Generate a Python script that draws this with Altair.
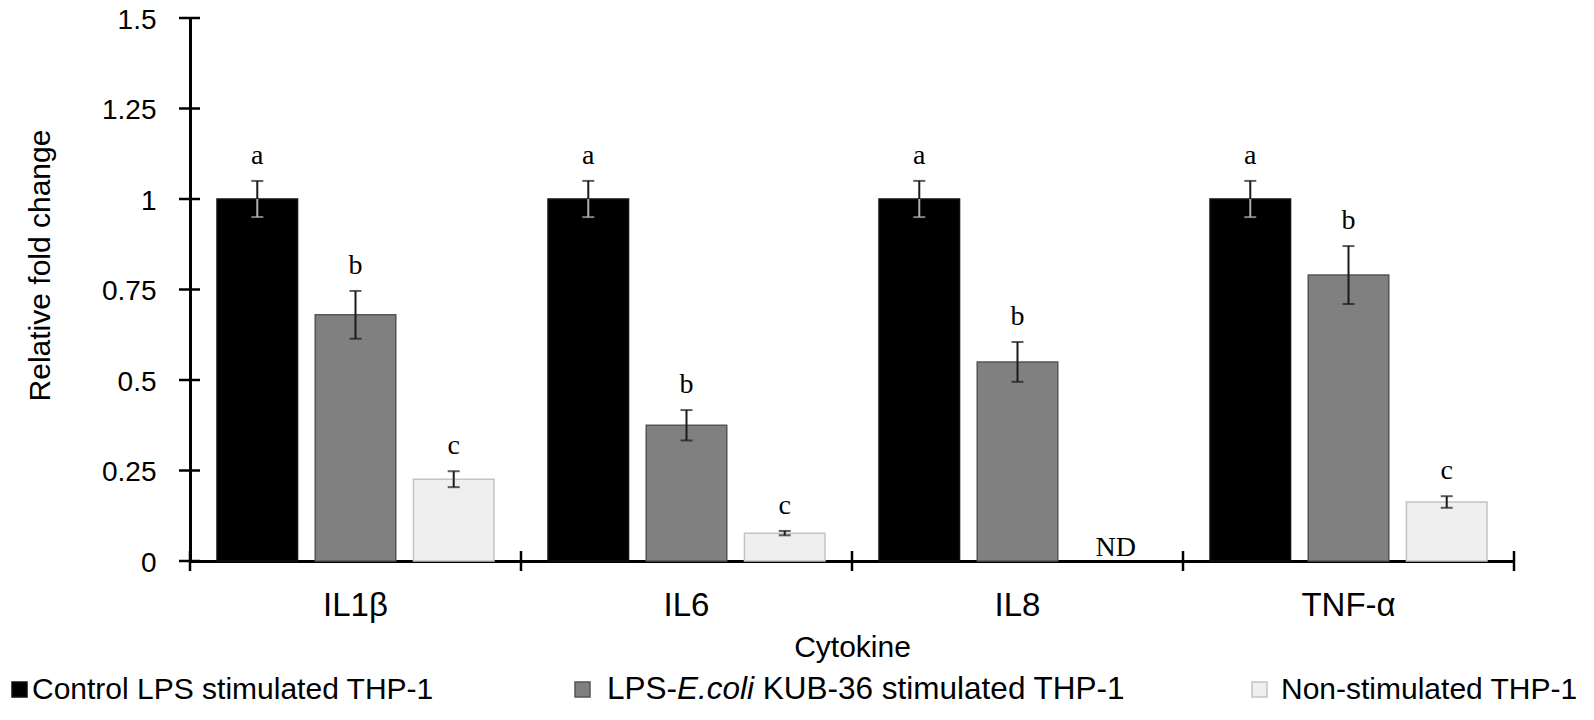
import altair as alt
import pandas as pd

# ---------------- data ----------------
categories = ["IL1β", "IL6", "IL8", "TNF-α"]
groups = ["Control LPS stimulated THP-1",
          "LPS-E.coli KUB-36 stimulated THP-1",
          "Non-stimulated THP-1"]
control_values = [1.0, 1.0, 1.0, 1.0]
control_errors = [0.05, 0.05, 0.05, 0.05]
ecoli_values = [0.68, 0.375, 0.55, 0.79]
ecoli_errors = [0.066, 0.042, 0.055, 0.08]
nonstim_values = [0.226, 0.077, 0.0, 0.163]
nonstim_errors = [0.022, 0.006, 0.0, 0.016]
nonstim_detected = [True, True, False, True]
control_letters = ["a", "a", "a", "a"]
ecoli_letters = ["b", "b", "b", "b"]
nonstim_letters = ["c", "c", "ND", "c"]
y_ticks = [0, 0.25, 0.5, 0.75, 1, 1.25, 1.5]

# ---------------- styles ----------------
SANS = "Liberation Sans"
SERIF = "Liberation Serif"
FS = 30
YFS = 28
XFS = 33
fills = ["#000000", "#808080", "#efefef"]
strokes = ["#111111", "#555555", "#c4c4c4"]
low_err_colors = ["#b0b0b0", "#1a1a1a", "#1a1a1a"]
DARK = "#1a1a1a"
W, H = 1324, 543
TOP = 10

rows = []
series = [
    (control_values, control_errors, control_letters, [True] * 4),
    (ecoli_values, ecoli_errors, ecoli_letters, [True] * 4),
    (nonstim_values, nonstim_errors, nonstim_letters, nonstim_detected),
]
for gi, (vals, errs, lets, det) in enumerate(series):
    for ci, cat in enumerate(categories):
        rows.append({
            "cat": cat, "group": groups[gi], "value": vals[ci],
            "lo": vals[ci] - errs[ci], "hi": vals[ci] + errs[ci],
            "letter": lets[ci], "detected": det[ci],
            "lowcolor": low_err_colors[gi],
        })
df = pd.DataFrame(rows)

xscale = alt.Scale(domain=categories, paddingInner=0, paddingOuter=0)
xoscale = alt.Scale(domain=groups, paddingInner=0.18, paddingOuter=0.275)
yscale = alt.Scale(domain=[0, 1.5], nice=False, zero=True)

xaxis = alt.Axis(title="Cytokine", labelFont=SANS, labelFontSize=XFS,
                 labelColor="black", labelBaseline="alphabetic",
                 labelPadding=54, labelAngle=0, ticks=False, tickSize=0,
                 domainColor="black", domainWidth=3,
                 titleFont=SANS, titleFontSize=FS, titleFontWeight="normal",
                 titleColor="black", titleY=95, titleBaseline="alphabetic")
yaxis = alt.Axis(title="Relative fold change", values=y_ticks,
                 labelExpr="format(datum.value, '~g')",
                 labelFont=SANS, labelFontSize=YFS, labelColor="black",
                 labelBaseline="alphabetic", labelOffset=10,
                 labelPadding=34, ticks=False, tickSize=0, grid=False,
                 domainColor="black", domainWidth=3,
                 titleFont=SANS, titleFontSize=FS, titleFontWeight="normal",
                 titleColor="black", titleX=-150, titleY=247,
                 titleAngle=-90, titleBaseline="middle", titleAlign="center")


def X(**kw):
    return alt.X("cat:N", scale=xscale, sort=categories, axis=xaxis,
                 title="Cytokine", **kw)


def Yf(field):
    return alt.Y(field, scale=yscale, axis=yaxis, title="Relative fold change")


XO = alt.XOffset("group:N", scale=xoscale, sort=groups)

base = alt.Chart(df)
det = base.transform_filter("datum.detected")

bars = det.mark_bar(strokeWidth=1.5).encode(
    x=X(), xOffset=XO, y=Yf("value:Q"),
    color=alt.Color("group:N", scale=alt.Scale(domain=groups, range=fills), legend=None),
    stroke=alt.Stroke("group:N", scale=alt.Scale(domain=groups, range=strokes), legend=None),
)
err_up = det.mark_rule(strokeWidth=2, color=DARK).encode(
    x=X(), xOffset=XO, y=Yf("value:Q"), y2="hi:Q")
err_low = det.mark_rule(strokeWidth=2).encode(
    x=X(), xOffset=XO, y=Yf("lo:Q"), y2="value:Q",
    color=alt.Color("lowcolor:N", scale=None))
cap_top = det.mark_tick(orient="horizontal", size=12, thickness=2, color=DARK).encode(
    x=X(), xOffset=XO, y=Yf("hi:Q"))
cap_low = det.mark_tick(orient="horizontal", size=12, thickness=2).encode(
    x=X(), xOffset=XO, y=Yf("lo:Q"), color=alt.Color("lowcolor:N", scale=None))
letters = det.mark_text(font=SERIF, fontSize=28, baseline="alphabetic", dy=-17,
                        color="black").encode(
    x=X(), xOffset=XO, y=Yf("hi:Q"), text="letter:N")
nd = base.transform_filter("!datum.detected").mark_text(
    font=SERIF, fontSize=28, baseline="alphabetic", dy=-5, color="black").encode(
    x=X(), xOffset=XO, y=Yf("value:Q"), text="letter:N")

# axis ticks crossing the axis lines
ytick_df = pd.DataFrame({"value": y_ticks})
yticks = alt.Chart(ytick_df).mark_rule(strokeWidth=2.5, color="black").encode(
    y=Yf("value:Q"), x=alt.value(-11), x2=alt.value(10))
cat_df = pd.DataFrame({"cat": categories})
xticks_start = alt.Chart(cat_df).mark_rule(strokeWidth=2.5, color="black").encode(
    x=X(bandPosition=0), y=alt.value(H - 10), y2=alt.value(H + 10))
xticks_end = alt.Chart(cat_df).transform_filter(
    alt.datum.cat == categories[-1]).mark_rule(strokeWidth=2.5, color="black").encode(
    x=X(bandPosition=1), y=alt.value(H - 10), y2=alt.value(H + 10))

# ---------------- manual legend (to allow italic E.coli) ----------------
ARIAL = {" ": 278, "-": 333, ".": 278, "1": 556, "3": 556, "6": 556, "B": 667,
         "C": 722, "E": 667, "H": 722, "K": 667, "L": 556, "N": 722, "P": 667,
         "S": 667, "T": 611, "U": 722, "a": 556, "c": 500, "d": 556, "e": 556,
         "i": 222, "l": 222, "m": 833, "n": 556, "o": 556, "r": 333, "s": 500,
         "t": 278, "u": 556}


def tw(s, fs):
    return sum(ARIAL.get(ch, 556) for ch in s) * fs / 1000.0


LFS1, LFS2, LFS3 = 30, 31.5, 30
LEG_Y_TOP, LEG_SIZE, LEG_BASE = 664, 15, 681
leg_square_x = [-178, 385, 1062]
leg_text_x = [-158, 417, 1091]
one = pd.DataFrame({"k": [0]})
legend_layers = []
for i in range(3):
    legend_layers.append(
        alt.Chart(one).mark_rect(fill=fills[i], stroke=strokes[i], strokeWidth=1.5).encode(
            x=alt.value(leg_square_x[i]), x2=alt.value(leg_square_x[i] + LEG_SIZE),
            y=alt.value(LEG_Y_TOP), y2=alt.value(LEG_Y_TOP + LEG_SIZE)))
pieces = [
    (leg_text_x[0], "Control LPS stimulated THP-1", "normal", LFS1),
    (leg_text_x[1], "LPS-", "normal", LFS2),
    (leg_text_x[1] + tw("LPS-", LFS2), "E.coli", "italic", LFS2),
    (leg_text_x[1] + tw("LPS-E.coli ", LFS2), "KUB-36 stimulated THP-1", "normal", LFS2),
    (leg_text_x[2], "Non-stimulated THP-1", "normal", LFS3),
]
for px, txt, style, fs in pieces:
    legend_layers.append(
        alt.Chart(one).mark_text(text=txt, font=SANS, fontSize=fs, fontStyle=style,
                                 align="left", baseline="alphabetic", color="black").encode(
            x=alt.value(px), y=alt.value(LEG_BASE)))

chart = alt.layer(
    bars, err_low, err_up, cap_low, cap_top, letters, nd,
    yticks, xticks_start, xticks_end, *legend_layers
).properties(
    width=W, height=H,
    autosize=alt.AutoSizeParams(type="none"),
    padding={"left": 182, "top": TOP, "right": 72, "bottom": 704 - TOP - H},
    background="white",
).configure_view(stroke=None)

chart.save("out.html", embed_options={"renderer": "svg", "actions": False})
